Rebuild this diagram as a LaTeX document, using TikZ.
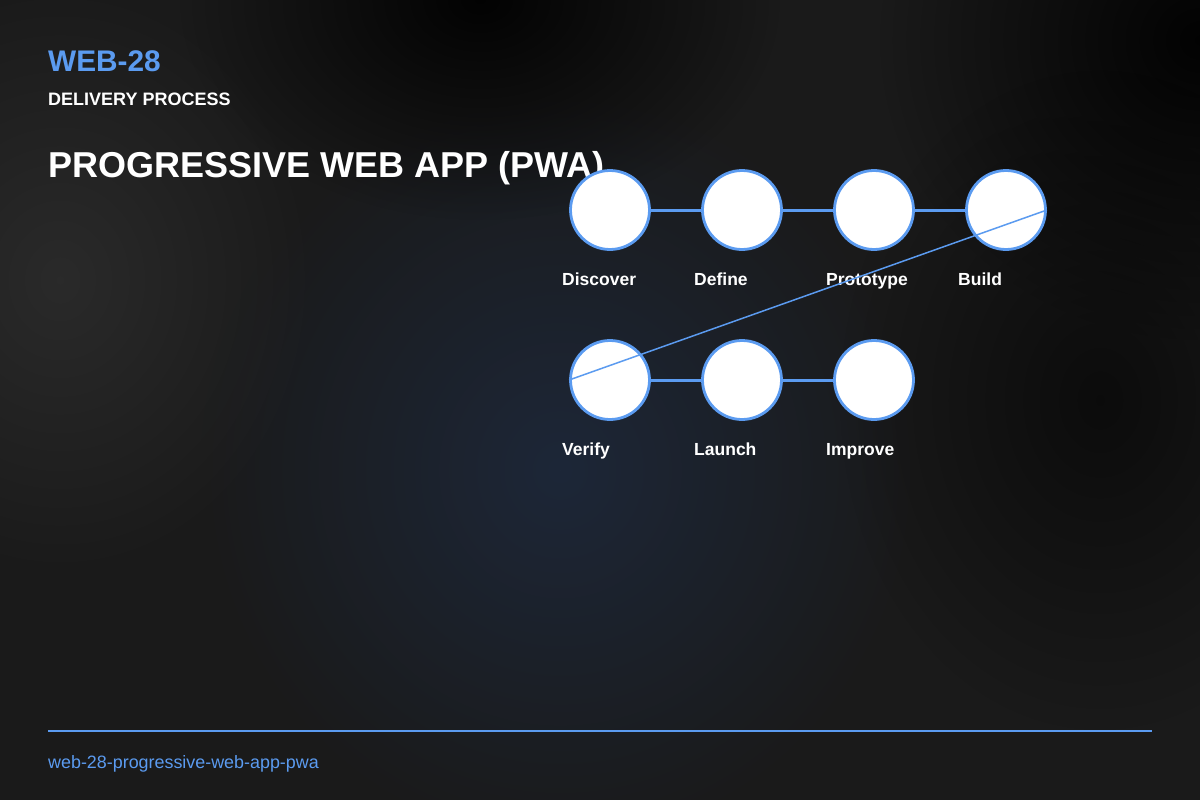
\documentclass[tikz,border=0pt]{standalone}
\usepackage{fontspec}
\setmainfont{Liberation Sans}
\usetikzlibrary{fadings}
\tikzfading[name=radfade, inner color=transparent!0, outer color=transparent!100]
\definecolor{accent}{HTML}{5B9BF0}
\definecolor{bg}{HTML}{1A1A1A}
\definecolor{glow}{HTML}{1D2738}
\definecolor{lightgray}{HTML}{2C2C2C}
\begin{document}
\begin{tikzpicture}[x=1pt,y=-1pt,
  stepnode/.style={circle, draw=accent, line width=2.8pt, fill=white, minimum size=79pt, inner sep=0pt},
  lab/.style={anchor=base west, text=white, font=\bfseries\fontsize{17.5}{20}\selectfont, inner sep=0pt},
  link/.style={draw=accent, line width=3pt},
  thinlink/.style={draw=accent, line width=1.5pt}
]
\useasboundingbox (0,0) rectangle (1200,800);
% background
\fill[bg] (0,0) rectangle (1200,800);
\fill[lightgray, path fading=radfade, opacity=0.9] (60,280) ellipse (260pt and 300pt);
\fill[glow, path fading=radfade] (560,470) ellipse (360pt and 380pt);
\fill[black, path fading=radfade, opacity=0.9] (480,0) ellipse (300pt and 220pt);
\fill[black, path fading=radfade, opacity=0.9] (1200,40) ellipse (320pt and 300pt);
\fill[black, path fading=radfade, opacity=0.55] (1100,400) ellipse (260pt and 330pt);
% titles
\node[anchor=base west, inner sep=0pt, text=accent, font=\bfseries\fontsize{29.8}{32}\selectfont] (code) at (48,72) {WEB-28};
\node[anchor=base west, inner sep=0pt, text=white, font=\bfseries\fontsize{18}{20}\selectfont] (sub) at (48,105) {DELIVERY PROCESS};
\node[anchor=base west, inner sep=0pt, text=white, font=\bfseries\fontsize{36}{40}\selectfont] (title) at (48,177) {PROGRESSIVE WEB APP (PWA)};
% steps
\node[stepnode] (s1) at (610,210) {};
\node[stepnode] (s2) at (742,210) {};
\node[stepnode] (s3) at (874,210) {};
\node[stepnode] (s4) at (1006,210) {};
\node[stepnode] (s5) at (610,380) {};
\node[stepnode] (s6) at (742,380) {};
\node[stepnode] (s7) at (874,380) {};
\draw[link] (s1) -- (s2);
\draw[link] (s2) -- (s3);
\draw[link] (s3) -- (s4);
\draw[link] (s5) -- (s6);
\draw[link] (s6) -- (s7);
% labels
\node[lab] (l1) at (562,285) {Discover};
\node[lab] (l2) at (694,285) {Define};
\node[lab] (l3) at (826,285) {Prototype};
\node[lab] (l4) at (958,285) {Build};
\node[lab] (l5) at (562,455) {Verify};
\node[lab] (l6) at (694,455) {Launch};
\node[lab] (l7) at (826,455) {Improve};
% wrap connector
\draw[thinlink] (s4.east) -- (s5.west);
% footer
\coordinate (fl) at (48,731);
\coordinate (fr) at (1152,731);
\draw[draw=accent, line width=2pt] (fl) -- (fr);
\node[anchor=base west, inner sep=0pt, text=accent, font=\fontsize{17.9}{20}\selectfont] (foot) at (48,768) {web-28-progressive-web-app-pwa};
\end{tikzpicture}
\end{document}
